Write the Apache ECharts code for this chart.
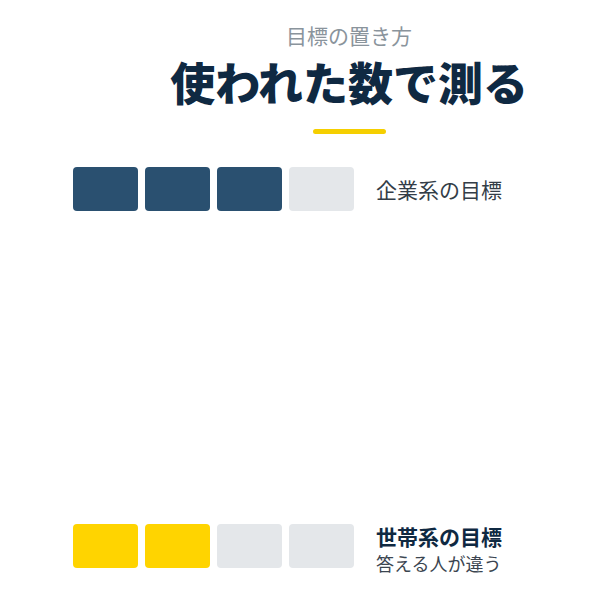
<!DOCTYPE html>
<html>
<head>
<meta charset="utf-8">
<script src="https://cdn.jsdelivr.net/npm/echarts@6/dist/echarts.min.js"></script>
<style>
html,body{margin:0;padding:0;background:#fff;}
#c{width:600px;height:600px;}
</style>
</head>
<body>
<div id="c"></div>
<script>
// ---- data ----
const kicker = '目標の置き方';
const headline = '使われた数で測る';
const rowLabels = ['企業系の目標', '世帯系の目標'];
const rowNotes = ['', '答える人が違う'];
const filledCounts = [3, 2];
const totalCounts = [4, 4];

// ---- styles ----
const fillColors = ['#2a5070', '#ffd400'];
const emptyColor = '#e4e7ea';
const FONT = '"Noto Sans CJK JP", "Noto Sans", sans-serif';

const cells = [];
rowLabels.forEach((lab, r) => {
  for (let i = 0; i < totalCounts[r]; i++) {
    cells.push([i, lab, i < filledCounts[r] ? 1 : 0, r]);
  }
});

const chart = echarts.init(document.getElementById('c'), null, {renderer: 'svg'});
chart.setOption({
  backgroundColor: '#ffffff',
  animation: false,
  title: [
    {
      text: kicker, left: 349, top: 24, textAlign: 'center', padding: 0,
      textStyle: {fontFamily: FONT, fontSize: 21, lineHeight: 22, fontWeight: 'normal', color: '#8a949c'}
    },
    {
      text: headline, left: 349, top: 58, textAlign: 'center', padding: 0,
      textStyle: {fontFamily: FONT, fontSize: 45, lineHeight: 46, fontWeight: 900, color: '#0f2942'}
    }
  ],
  graphic: [
    {type: 'rect', left: 313, top: 129, shape: {width: 73, height: 5, r: 2.5}, style: {fill: '#f5cf00'}}
  ],
  grid: {left: 73, right: 239, top: 189, bottom: 54, containLabel: false},
  xAxis: {type: 'value', min: 0, max: 4, show: false},
  yAxis: {
    type: 'category', data: rowLabels, inverse: true, boundaryGap: false, position: 'right',
    axisLine: {show: false}, axisTick: {show: false}, splitLine: {show: false},
    axisLabel: {
      margin: 15, align: 'left',
      formatter: function (v, idx) {
        if (rowNotes[idx]) return '{b|' + v + '}\n{n|' + rowNotes[idx] + '}';
        return '{a|' + v + '}';
      },
      rich: {
        a: {fontFamily: FONT, fontSize: 21, color: '#333d47', lineHeight: 26},
        b: {fontFamily: FONT, fontSize: 21, fontWeight: 'bold', color: '#0f2942', lineHeight: 34},
        n: {fontFamily: FONT, fontSize: 18, color: '#3b4550', lineHeight: 20}
      }
    }
  },
  series: [{
    type: 'custom',
    data: cells,
    encode: {x: 0, y: 1},
    renderItem: function (params, api) {
      const yIdx = api.value(3);
      const p0 = api.coord([api.value(0), yIdx]);
      const p1 = api.coord([api.value(0) + 1, yIdx]);
      const filled = api.value(2) === 1;
      return {
        type: 'rect',
        shape: {x: p0[0], y: p0[1] - 22, width: p1[0] - p0[0] - 7, height: 44, r: 4},
        style: {fill: filled ? fillColors[yIdx] : emptyColor}
      };
    }
  }]
});
</script>
</body>
</html>
